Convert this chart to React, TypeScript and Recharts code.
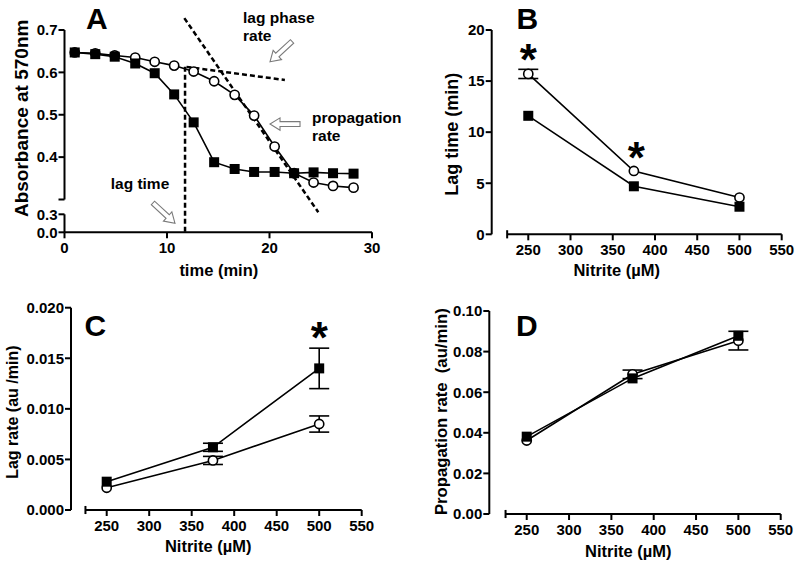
import React from 'react';
import { LineChart, Line, XAxis, YAxis, ReferenceLine, ReferenceDot, ErrorBar } from 'recharts';

const FONT = "'Liberation Sans', Arial, Helvetica, sans-serif";

// ---------- Panel A: absorbance kinetics ----------
const timeMin = [1.0, 3.0, 4.9, 6.9, 8.8, 10.7, 12.6, 14.6, 16.6, 18.5, 20.5, 22.4, 24.3, 26.2, 28.2];
const absSquare = [0.647, 0.643, 0.637, 0.621, 0.598, 0.548, 0.482, 0.388, 0.372, 0.365, 0.365, 0.362, 0.364, 0.362, 0.361];
const absCircle = [0.647, 0.645, 0.640, 0.635, 0.625, 0.616, 0.602, 0.579, 0.547, 0.498, 0.425, 0.362, 0.340, 0.332, 0.328];
const timeTicks = [0, 10, 20, 30];
const absTopTicks = [0.3, 0.4, 0.5, 0.6, 0.7];
const absBottomTicks = [0, 0.3];

// annotation fits (data units)
const lagTimeMarker = 11.76;
const lagPhaseFit = [{ x: 11.9, y: 0.613 }, { x: 21.5, y: 0.582 }];
const propagationFit = [{ x: 11.69, y: 0.728 }, { x: 24.76, y: 0.27 }];

// ---------- Panels B, C, D ----------
const nitrite = [250, 375, 500];
const nitriteTicks = [250, 300, 350, 400, 450, 500, 550];

const lagTimeSquare = [11.6, 4.7, 2.7];
const lagTimeSquareErr = [0, 0, 0];
const lagTimeCircle = [15.7, 6.2, 3.6];
const lagTimeCircleErr = [0.45, 0, 0];
const lagTimeTicks = [0, 5, 10, 15, 20];

const lagRateSquare = [0.0028, 0.0062, 0.014];
const lagRateSquareErr = [0, 0.0004, 0.002];
const lagRateCircle = [0.0022, 0.0049, 0.0085];
const lagRateCircleErr = [0, 0.0004, 0.0008];
const lagRateTicks = [0, 0.005, 0.01, 0.015, 0.02];

const propRateSquare = [0.0381, 0.0668, 0.0878];
const propRateSquareErr = [0, 0, 0];
const propRateCircle = [0.0362, 0.0688, 0.0854];
const propRateCircleErr = [0, 0.0021, 0.0046];
const propRateTicks = [0, 0.02, 0.04, 0.06, 0.08, 0.1];

const lagTimeStars = [{ n: 250, v: 17.8 }, { n: 378, v: 8.3 }];
const lagRateStars = [{ n: 500, v: 0.0178 }];

// ---------- layout helpers ----------
const W = 800;
const H = 567;
const Y_W = 60;
const X_H = 30;
type Box = { left: number; top: number; right: number; bottom: number };
const marginFor = (b: Box, xh = X_H) => ({ left: b.left - Y_W, top: b.top, right: W - b.right, bottom: H - b.bottom - xh });
const layer: React.CSSProperties = { position: 'absolute', left: 0, top: 0 };

const TICK = { fill: '#000', fontSize: 15, fontWeight: 700, fontFamily: FONT };
const AX = { stroke: '#000', strokeWidth: 2 };
const TL = { stroke: '#000', strokeWidth: 2 };
const LINE_W = 1.6;

const squareDot = (size: number) => (p: any) =>
  p.cx == null ? <g key={`e${p.index}`} /> : (
    <rect key={`s${p.index}`} x={p.cx - size / 2} y={p.cy - size / 2} width={size} height={size} fill="#000" />
  );
const circleDot = { r: 4.6, fill: '#fff', stroke: '#000', strokeWidth: 1.6 };

const arrowShape = (angle: number) => (p: any) => {
  const L = 30, h = 10, w = 6.2, s = 2.4;
  const pts = `0,0 ${-h},${-w} ${-h},${-s} ${-L},${-s} ${-L},${s} ${-h},${s} ${-h},${w}`;
  return (
    <polygon points={pts} transform={`translate(${p.cx},${p.cy}) rotate(${angle})`} fill="#fff" stroke="#7a7a7a" strokeWidth={1.1} />
  );
};

const starShape = (p: any) => (
  <text x={p.cx} y={p.cy + 23} textAnchor="middle" fontSize={44} fontWeight={700} fontFamily={FONT} fill="#000">*</text>
);

const dashed = { stroke: '#000', strokeWidth: 2.5, strokeDasharray: '5 3' };

// ---------- Panel A ----------
const boxATop: Box = { left: 64.5, top: 30, right: 372, bottom: 199.5 };
const boxABot: Box = { left: 64.5, top: 214.3, right: 372, bottom: 232.3 };

function PanelA() {
  const rows = timeMin.map((t, i) => ({ t, sq: absSquare[i], ci: absCircle[i] }));
  return (
    <>
      <div style={layer}>
        <LineChart width={W} height={H} data={rows} margin={marginFor(boxABot)}>
          <XAxis dataKey="t" type="number" domain={[0, 30]} ticks={timeTicks} interval={0} axisLine={AX} tickLine={TL} tickSize={6} tickMargin={4} tick={TICK} height={X_H} allowDataOverflow />
          <YAxis type="number" domain={[0, 0.3]} ticks={absBottomTicks} interval={0} tickFormatter={(v: number) => v.toFixed(1)} axisLine={AX} tickLine={TL} tickSize={6} tickMargin={1} tick={TICK} width={Y_W} allowDataOverflow />
          <Line dataKey="sq" stroke="none" dot={false} activeDot={false} isAnimationActive={false} />
          <ReferenceDot x={10.78} y={0.15} r={0} ifOverflow="visible" shape={arrowShape(42.7)} />
        </LineChart>
      </div>
      <div style={layer}>
        <LineChart width={W} height={H} data={rows} margin={marginFor(boxATop, 0)}>
          <XAxis dataKey="t" type="number" domain={[0, 30]} hide height={0} />
          <YAxis type="number" domain={[0.3, 0.7]} ticks={absTopTicks} interval={0} tickFormatter={(v: number) => (v === 0.3 ? '' : v.toFixed(1))} axisLine={AX} tickLine={TL} tickSize={6} tickMargin={1} tick={TICK} width={Y_W} allowDataOverflow />
          <Line dataKey="ci" stroke="#000" strokeWidth={LINE_W} dot={circleDot} activeDot={false} isAnimationActive={false} />
          <Line dataKey="sq" stroke="#000" strokeWidth={LINE_W} dot={squareDot(10)} activeDot={false} isAnimationActive={false} />
          <ReferenceLine segment={[{ x: lagTimeMarker, y: 0.613 }, { x: lagTimeMarker, y: 0.2226 }]} {...dashed} ifOverflow="visible" />
          <ReferenceLine segment={lagPhaseFit} {...dashed} ifOverflow="visible" />
          <ReferenceLine segment={propagationFit} {...dashed} ifOverflow="visible" />
          <ReferenceDot x={20.05} y={0.625} r={0} ifOverflow="visible" shape={arrowShape(137.3)} />
          <ReferenceDot x={20.05} y={0.478} r={0} ifOverflow="visible" shape={arrowShape(180)} />
        </LineChart>
      </div>
    </>
  );
}

// ---------- Nitrite panels ----------
type NP = {
  sq: number[]; sqErr: number[]; ci: number[]; ciErr: number[];
  box: Box; xMin: number; yMax: number; yTicks: number[]; yFmt: (v: number) => string; cap: number;
  stars: { n: number; v: number }[];
};

function NitritePanel({ sq, sqErr, ci, ciErr, box, xMin, yMax, yTicks, yFmt, cap, stars }: NP) {
  const rows = nitrite.map((n, i) => ({ n, sq: sq[i], sqErr: sqErr[i], ci: ci[i], ciErr: ciErr[i] }));
  return (
    <div style={layer}>
      <LineChart width={W} height={H} data={rows} margin={marginFor(box)}>
        <XAxis dataKey="n" type="number" domain={[xMin, 550]} ticks={nitriteTicks} interval={0} axisLine={false} tickLine={TL} tickSize={6} tickMargin={4} tick={TICK} height={X_H} allowDataOverflow />
        <YAxis type="number" domain={[0, yMax]} ticks={yTicks} interval={0} tickFormatter={yFmt} axisLine={AX} tickLine={TL} tickSize={6} tickMargin={1} tick={TICK} width={Y_W} allowDataOverflow />
        <ReferenceLine segment={[{ x: 225, y: 0 }, { x: 550, y: 0 }]} stroke="#000" strokeWidth={2} ifOverflow="visible" />
        <ReferenceLine segment={[{ x: 225, y: -cap }, { x: 225, y: cap }]} stroke="#000" strokeWidth={2} ifOverflow="visible" />
        <Line dataKey="ci" stroke="#000" strokeWidth={LINE_W} dot={circleDot} activeDot={false} isAnimationActive={false}>
          <ErrorBar dataKey="ciErr" width={10} stroke="#000" strokeWidth={1.6} direction="y" isAnimationActive={false} />
        </Line>
        <Line dataKey="sq" stroke="#000" strokeWidth={LINE_W} dot={squareDot(10)} activeDot={false} isAnimationActive={false}>
          <ErrorBar dataKey="sqErr" width={10} stroke="#000" strokeWidth={1.6} direction="y" isAnimationActive={false} />
        </Line>
        {stars.map((s, i) => (
          <ReferenceDot key={i} x={s.n} y={s.v} r={0} ifOverflow="visible" shape={starShape} />
        ))}
      </LineChart>
    </div>
  );
}

export default function App() {
  return (
    <div style={{ position: 'absolute', left: 0, top: 0, width: W, height: H, background: '#fff', overflow: 'hidden' }}>
      <PanelA />
      <NitritePanel sq={lagTimeSquare} sqErr={lagTimeSquareErr} ci={lagTimeCircle} ciErr={lagTimeCircleErr}
        box={{ left: 491.7, top: 30, right: 781.7, bottom: 234.3 }} xMin={206.7} yMax={20} yTicks={lagTimeTicks}
        yFmt={(v) => String(v)} cap={0.4} stars={lagTimeStars} />
      <NitritePanel sq={lagRateSquare} sqErr={lagRateSquareErr} ci={lagRateCircle} ciErr={lagRateCircleErr}
        box={{ left: 71, top: 307.7, right: 361.7, bottom: 510 }} xMin={208} yMax={0.02} yTicks={lagRateTicks}
        yFmt={(v) => v.toFixed(3)} cap={0.0004} stars={lagRateStars} />
      <NitritePanel sq={propRateSquare} sqErr={propRateSquareErr} ci={propRateCircle} ciErr={propRateCircleErr}
        box={{ left: 489.3, top: 311, right: 780.7, bottom: 514 }} xMin={205.8} yMax={0.1} yTicks={propRateTicks}
        yFmt={(v) => v.toFixed(2)} cap={0.002} stars={[]} />
      <svg width={W} height={H} style={{ ...layer, pointerEvents: 'none' }}>
        <g fontFamily={FONT} fontWeight={700} fill="#000">
          <text x={86} y={28.5} fontSize={30}>A</text>
          <text x={516.5} y={28.5} fontSize={30}>B</text>
          <text x={84.5} y={335.5} fontSize={30}>C</text>
          <text x={516} y={335.5} fontSize={30}>D</text>
          <text x={218.8} y={276} fontSize={16.5} textAnchor="middle">time (min)</text>
          <text x={616.7} y={276} fontSize={16.5} textAnchor="middle">Nitrite (µM)</text>
          <text x={208.2} y={552} fontSize={16.5} textAnchor="middle">Nitrite (µM)</text>
          <text x={628.3} y={557} fontSize={16.5} textAnchor="middle">Nitrite (µM)</text>
          <text transform="translate(27.5,118.3) rotate(-90)" fontSize={19} textAnchor="middle">Absorbance at 570nm</text>
          <text transform="translate(458,134.2) rotate(-90)" fontSize={18} textAnchor="middle">Lag time (min)</text>
          <text transform="translate(18.3,412.2) rotate(-90)" fontSize={16} textAnchor="middle">Lag rate (au /min)</text>
          <text transform="translate(446.5,411.7) rotate(-90)" fontSize={16.7} textAnchor="middle" style={{ whiteSpace: 'pre' }}>Propagation rate  (au/min)</text>
          <text x={243} y={23.3} fontSize={15.5}>lag phase</text>
          <text x={243} y={40.7} fontSize={15.5}>rate</text>
          <text x={312} y={122.5} fontSize={15.5}>propagation</text>
          <text x={312} y={140.7} fontSize={15.5}>rate</text>
          <text x={140} y={189} fontSize={15.5} textAnchor="middle">lag time</text>
        </g>
      </svg>
    </div>
  );
}
